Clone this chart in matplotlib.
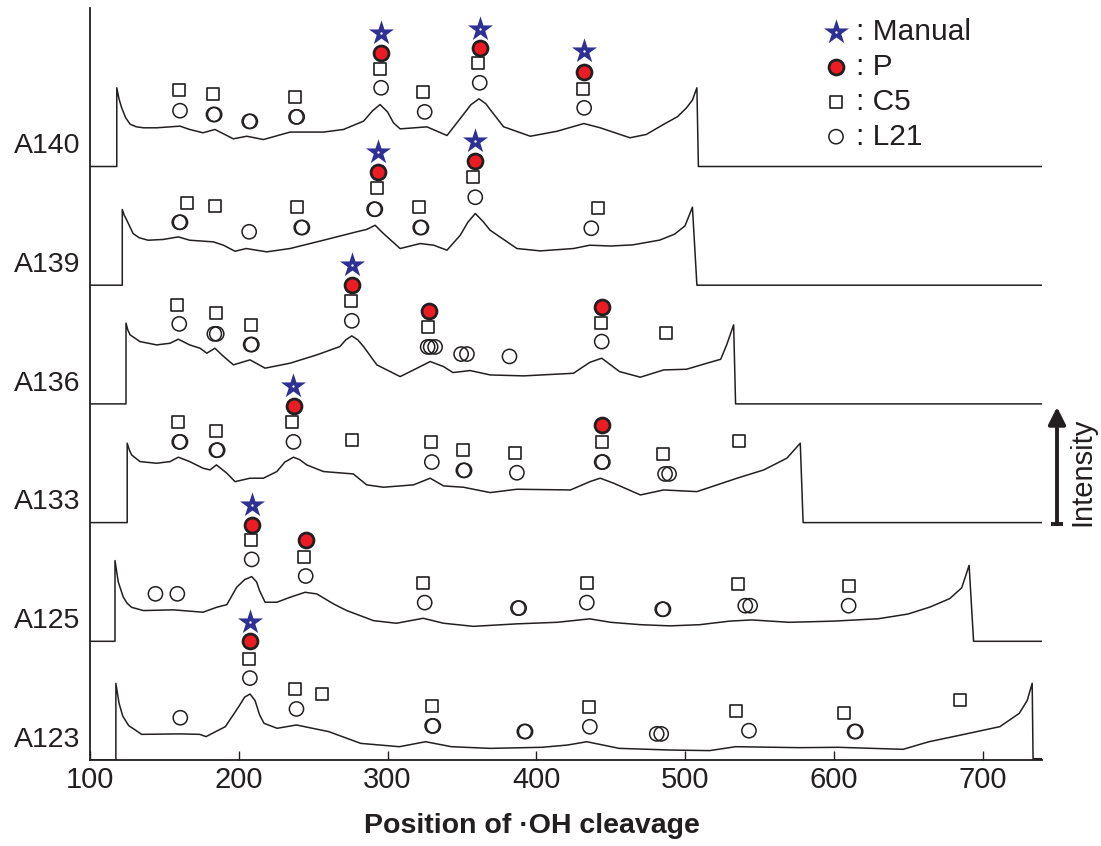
import matplotlib.pyplot as plt
from matplotlib import transforms

plt.rcParams['font.family'] = ['Liberation Sans', 'DejaVu Sans']

ink = '#231f20'
star_blue = '#2e3192'
p_red = '#ed1c24'

samples = ['A123', 'A125', 'A133', 'A136', 'A139', 'A140']
x_ticks = [100, 200, 300, 400, 500, 600, 700]

# trace outlines: position, height above the sample's own baseline
a140_x = [118, 118, 119.5, 121.3, 124, 127, 131, 135.9, 144.8, 160.5, 167, 176, 184, 196.4, 205.4, 216.6, 234.5,
          257, 270.4, 283.9, 290, 295, 300, 304, 308.5, 326.5, 340, 351, 356, 361.5, 366, 369, 378, 396, 414, 432,
          443, 463, 474, 485.5, 495, 501, 505, 508, 509]
a140_y = [0, .663, .57, .494, .41, .356, .335, .326, .326, .34, .312, .284, .312, .233, .255, .227, .29,
          .29, .312, .382, .47, .522, .46, .368, .317, .334, .261, .438, .52, .57, .53, .48, .335, .255, .297, .362,
          .326, .242, .27, .354, .42, .494, .56, .663, 0]

a139_x = [121.7, 121.7, 123, 124.7, 129, 133, 139, 149, 159.4, 167, 183, 189.7, 197.5, 205, 218.8, 234.5, 257,
          279, 286, 291.7, 297.3, 308.5, 322, 331, 340, 348.9, 354, 359, 364, 369, 387, 402.7, 425, 436, 450, 465,
          483, 493, 500, 505, 508]
a139_y = [0, .638, .59, .548, .435, .4, .379, .385, .407, .379, .365, .337, .286, .309, .281, .309, .379,
          .449, .47, .505, .435, .309, .351, .337, .295, .421, .53, .604, .54, .463, .309, .289, .309, .337, .33, .34,
          .38, .43, .5, .657, 0]

a136_x = [124.2, 124.2, 125.5, 127, 133.6, 144.8, 153.8, 159.4, 167, 174, 178.5, 184, 188.6, 196.4, 207.6, 217.7,
          234.5, 252.5, 268, 272, 276, 280, 283.9, 292.8, 308.5, 317.5, 328.7, 337.7, 344, 355.6, 369, 391.5, 425,
          436, 444, 456, 470, 485.6, 501, 514.8, 524, 528, 532.7, 534]
a136_y = [0, .68, .62, .581, .525, .497, .511, .545, .497, .469, .427, .469, .413, .329, .371, .301,
          .343, .413, .483, .54, .573, .54, .483, .329, .230, .286, .357, .314, .264, .281, .244, .236, .258,
          .35, .385, .272, .225, .286, .292, .343, .376, .497, .666, 0]

a133_x = [125, 125, 126.5, 128, 133.6, 144.8, 153.8, 159.4, 167, 176, 180.7, 185, 192, 197.5, 207.6, 216.6, 225.6,
          231, 236.8, 241, 245.7, 257, 277, 286, 297.3, 317.5, 328.7, 337.7, 351, 369, 387, 423, 436, 443, 452,
          470, 485.6, 508, 535, 553, 568.5, 577.5, 579.4]
a133_y = [0, .669, .61, .570, .514, .500, .514, .551, .514, .458, .444, .486, .416, .345, .374, .374, .430,
          .51, .551, .53, .486, .430, .410, .318, .298, .318, .374, .309, .298, .253, .281, .275, .345, .374, .332,
          .233, .275, .261, .374, .444, .543, .669, 0]

a125_x = [116.8, 116.8, 119, 122.4, 125, 128, 135.9, 156, 176, 185, 192, 198.6, 204, 208.7, 212, 214, 217.7,
          225.6, 234.5, 244.6, 252.5, 263.7, 272.6, 290.6, 306, 324, 337.7, 357.8, 387, 414, 436, 450, 470, 490,
          510, 530, 545, 570, 600, 630, 650, 665, 678, 686, 691, 694]
a125_y = [0, .68, .5, .371, .32, .286, .259, .265, .245, .286, .309, .455, .52, .545, .5, .427, .329,
          .329, .371, .413, .399, .315, .259, .174, .152, .194, .152, .126, .147, .160, .189, .16, .14, .13,
          .14, .17, .18, .16, .17, .19, .23, .29, .36, .45, .64, 0]

a123_x = [117.4, 117.4, 119.5, 122, 126, 130.4, 134.7, 160.7, 173.8, 178, 191, 200, 204, 207.6, 211, 214, 217,
          225.8, 238.8, 260.5, 282, 308, 325.6, 343, 369, 403.7, 421, 434, 455.7, 490, 516.5, 534, 577, 603, 646.6,
          664, 685.7, 711.7, 724.7, 730, 733.4, 734]
a123_y = [0, .646, .48, .37, .29, .253, .216, .22, .216, .197, .281, .45, .53, .556, .5, .38, .309,
          .267, .295, .239, .140, .112, .154, .112, .098, .107, .126, .154, .098, .084, .079, .112, .104, .107, .090,
          .154, .211, .281, .393, .5, .646, 0]

# predicted cleavage sites (position, height above baseline)
a140_manual = [(295.7, 1.126), (362, 1.16), (432.2, 0.97)]
a140_p = [(295.7, 0.958), (362, 1.0), (432.2, 0.80)]
a140_c5 = [(160, .643), (183, .607), (238, .584), (295, .823), (324, .626), (361, .868), (431.5, .654)]
a140_l21 = [(160.5, .47), (183, .438), (183.8, .438), (207, .38), (207.8, .38), (238.5, .418), (239.3, .418),
            (295.7, .663), (325, .46), (362, .705), (432.2, .494)]

a139_manual = [(293.7, 1.12), (358.5, 1.213)]
a139_p = [(293.7, .952), (358.5, 1.045)]
a139_c5 = [(165, .69), (184, .665), (239, .655), (292.8, .817), (321, .655), (357.6, .91), (441.6, .65)]
a139_l21 = [(160, .53), (160.8, .53), (207, .45), (242, .486), (242.8, .486), (291, .64), (291.8, .64),
            (322, .486), (322.8, .486), (359, .741), (437, .48)]

a136_manual = [(276, 1.17)]
a136_p = [(276, 1.0), (328, .786), (444, .82)]
a136_c5 = [(158.7, .834), (185, .764), (208, .665), (275.3, .87), (327, .65), (443.5, .68), (487, .595)]
a136_l21 = [(160, .674), (183.6, .59), (185.2, .59), (208, .50), (208.8, .50), (276, .70), (327, .48), (329, .48),
            (332, .48), (349.5, .42), (353.4, .42), (382, .40), (444, .525)]

a133_manual = [(236.5, 1.15)]
a133_p = [(237, .983), (444, .82)]
a133_c5 = [(159, .846), (185, .775), (236, .85), (276, .70), (329, .68), (351, .61), (386, .59), (444, .68),
           (485.5, .58), (536.5, .69)]
a133_l21 = [(160, .68), (160.8, .68), (185, .61), (185.8, .61), (236.8, .68), (329.8, .51), (351, .44),
            (351.8, .44), (387, .42), (444, .51), (444.8, .51), (486.6, .41), (489.3, .41)]

a125_manual = [(208.7, 1.15)]
a125_p = [(208.7, .98), (245, .85)]
a125_c5 = [(208, .85), (244, .71), (324, .495), (434, .49), (535.8, .48), (610, .47)]
a125_l21 = [(144, .40), (158.7, .40), (208.7, .69), (245, .55), (325, .326), (387.7, .28), (388.5, .28),
            (434, .326), (484.7, .27), (485.5, .27), (540.5, .30), (543.8, .30), (610, .30)]

a123_manual = [(207.8, 1.163)]
a123_p = [(207.8, 1.0)]
a123_c5 = [(207, .85), (238, .6), (256, .56), (330, .455), (435.4, .45), (534, .41), (606.7, .40), (684.8, .505)]
a123_l21 = [(160.7, .356), (207.5, .69), (238.8, .43), (330, .287), (330.8, .287), (392, .24), (392.8, .24),
            (436, .28), (481, .22), (484, .22), (543, .247), (614, .24), (614.8, .24)]

traces = {'A123': (a123_x, a123_y), 'A125': (a125_x, a125_y), 'A133': (a133_x, a133_y),
          'A136': (a136_x, a136_y), 'A139': (a139_x, a139_y), 'A140': (a140_x, a140_y)}
manual = {'A123': a123_manual, 'A125': a125_manual, 'A133': a133_manual,
          'A136': a136_manual, 'A139': a139_manual, 'A140': a140_manual}
p_sites = {'A123': a123_p, 'A125': a125_p, 'A133': a133_p, 'A136': a136_p, 'A139': a139_p, 'A140': a140_p}
c5_sites = {'A123': a123_c5, 'A125': a125_c5, 'A133': a133_c5, 'A136': a136_c5, 'A139': a139_c5, 'A140': a140_c5}
l21_sites = {'A123': a123_l21, 'A125': a125_l21, 'A133': a133_l21,
             'A136': a136_l21, 'A139': a139_l21, 'A140': a140_l21}

x_min, x_max = 100, 740

fig = plt.figure(figsize=(11.01, 8.46), dpi=100)
ax = fig.add_axes([90 / 1101, 86 / 846, 952 / 1101, 752 / 846])

star_kw = dict(marker='*', s=360, color=star_blue, linewidths=0, zorder=5)
dot_kw = dict(marker='o', s=3, color='white', linewidths=0, zorder=6)
p_kw = dict(marker='o', s=115, facecolor=p_red, edgecolor=ink, linewidths=2.0, zorder=5)
c5_kw = dict(marker='s', s=68, facecolor='white', edgecolor=ink, linewidths=1.2, zorder=4)
l21_kw = dict(marker='o', s=105, facecolor='none', edgecolor=ink, linewidths=1.1, zorder=4)

for off, name in enumerate(samples):
    xs, ys = traces[name]
    ax.plot([x_min] + xs + [x_max], [off] + [off + v for v in ys] + [off], color=ink, lw=1.1, zorder=3)

    for sites, kw in [(l21_sites, l21_kw), (c5_sites, c5_kw), (p_sites, p_kw), (manual, star_kw)]:
        pts = sites[name]
        ax.scatter([q[0] for q in pts], [off + q[1] for q in pts], **kw)
    ax.scatter([q[0] for q in manual[name]], [off + q[1] for q in manual[name]], **dot_kw)

    lbl = transforms.blended_transform_factory(ax.transAxes, ax.transData)
    ax.text(-0.0105, off + 0.17, name, transform=lbl, ha='right', va='center', fontsize=20.5, color=ink)

# thick stub at the right end of the bottom trace
ax.plot([a123_x[-1], x_max], [0, 0], color=ink, lw=3, solid_capstyle='butt', zorder=3)

ax.set_xlim(x_min, x_max)
ax.set_ylim(0, 752 / 118.7)
ax.set_xticks(x_ticks)
ax.set_xticklabels([str(t) for t in x_ticks])
ax.set_yticks([])
ax.tick_params(axis='x', direction='in', length=6.5, width=1, colors=ink, labelsize=21, pad=4)
for side in ['top', 'right']:
    ax.spines[side].set_visible(False)
for side in ['left', 'bottom']:
    ax.spines[side].set_color(ink)
    ax.spines[side].set_linewidth(1.3)

fig.text(532 / 1101, 1 - 833 / 846, 'Position of ·OH cleavage', ha='center', va='baseline',
         fontsize=20.5, fontweight='bold', color=ink)

# overlay in pixel coordinates for the key and the intensity arrow
ov = fig.add_axes([0, 0, 1, 1])
ov.set_xlim(0, 1101)
ov.set_ylim(846, 0)
ov.axis('off')
ov.patch.set_alpha(0)

legend_rows = [('Manual', star_kw), ('P', p_kw), ('C5', c5_kw), ('L21', l21_kw)]
for i, (lab, kw) in enumerate(legend_rows):
    yy = 31.7 + 35 * i
    ov.scatter([836], [yy], **kw)
    if lab == 'Manual':
        ov.scatter([836], [yy], **dot_kw)
    ov.text(856, yy, ': ' + lab, ha='left', va='center', fontsize=21.5, color=ink)

ov.annotate('', xy=(1057, 407), xytext=(1057, 524),
            arrowprops=dict(arrowstyle='-|>', lw=2.8, color=ink, mutation_scale=26, shrinkA=0, shrinkB=0))
ov.plot([1051, 1063], [524, 524], color=ink, lw=2.8, solid_capstyle='butt')
ov.text(1082, 472, 'Intensity', rotation=90, ha='center', va='center', fontsize=21, color=ink)

fig.savefig('out.png', dpi=100)
